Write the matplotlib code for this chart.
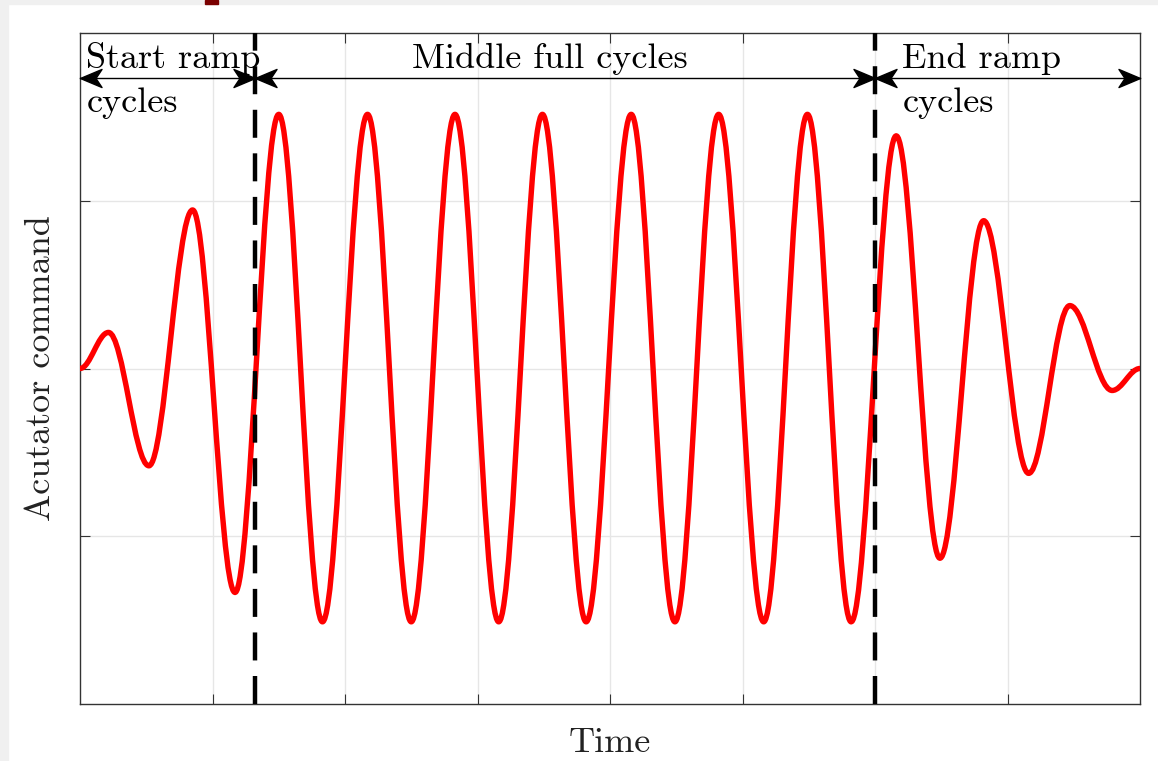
import matplotlib
matplotlib.use("Agg")
import matplotlib.pyplot as plt
from matplotlib.path import Path
from matplotlib.patches import PathPatch, Rectangle

plt.rcParams['font.family'] = 'cmr10'
plt.rcParams['mathtext.fontset'] = 'cm'
plt.rcParams['axes.unicode_minus'] = False

# peaks and troughs of the actuator command
peak_t = [0.0, 0.215, 0.52, 0.85, 1.17,
          1.50, 1.83, 2.17, 2.50, 2.83, 3.16, 3.49, 3.82, 4.16, 4.49, 4.82, 5.16, 5.49, 5.82,
          6.16, 6.49, 6.82, 7.16, 7.47, 7.79, 8.0]
peak_v = [0.0, 0.215, -0.58, 0.945, -1.335,
          1.515, -1.51, 1.515, -1.51, 1.515, -1.51, 1.515, -1.51, 1.515, -1.51, 1.515, -1.51, 1.515, -1.51,
          1.387, -1.131, 0.881, -0.625, 0.375, -0.131, 0.0]

# phase boundaries (dashed lines) and labels
bounds = [0.0, 1.32, 6.0, 8.0]
labels_top = ["Start ramp", "Middle full cycles", "End ramp"]
labels_bottom = ["cycles", "", "cycles"]
label_x = [0.045, 2.506, 6.204]

fig = plt.figure(figsize=(11.58, 7.61), dpi=100)
# grey frame bits of the screenshot
fig.patches.append(Rectangle((0, 0), 8 / 1158, 1, transform=fig.transFigure,
                             color='#f0f0f0', zorder=0))
fig.patches.append(Rectangle((0, 1 - 4 / 761), 1, 4 / 761, transform=fig.transFigure,
                             color='#f0f0f0', zorder=0))
fig.patches.append(Rectangle((205 / 1158, 1 - 4 / 761), 13 / 1158, 4 / 761,
                             transform=fig.transFigure, color='#7a0000', zorder=1))

ax = fig.add_axes([80 / 1158, 1 - 704 / 761, 1060 / 1158, 671 / 761])
ax.set_xlim(0, 8)
ax.set_ylim(-2, 2)
ax.set_xticks(range(1, 8))
ax.set_yticks([-1, 0, 1])
ax.set_xticklabels([])
ax.set_yticklabels([])
ax.tick_params(direction='in', length=7, width=0.8, color='#333333',
               top=True, right=True)
ax.grid(True, color='#e6e6e6', lw=1.0)
ax.set_axisbelow(True)
for s in ax.spines.values():
    s.set_color('#333333')
    s.set_linewidth(1.0)

# smooth signal: cubic bezier between extrema, flat tangents at each extremum
c = 0.3634
verts = [(peak_t[0], peak_v[0])]
codes = [Path.MOVETO]
for i in range(1, len(peak_t)):
    x0, y0 = peak_t[i - 1], peak_v[i - 1]
    x1, y1 = peak_t[i], peak_v[i]
    dx = x1 - x0
    verts += [(x0 + c * dx, y0), (x1 - c * dx, y1), (x1, y1)]
    codes += [Path.CURVE4] * 3
ax.add_patch(PathPatch(Path(verts, codes), fill=False, ec='red', lw=3.9,
                       capstyle='round', joinstyle='round', zorder=3))

# dashed boundaries
for b in bounds[1:3]:
    ax.axvline(b, color='black', lw=3.2, linestyle=(0, (6.3, 3.5)), zorder=4)

# double arrows with stealth-like heads
head_r = Path([(0, 0), (-1, 0.42), (-0.72, 0), (-1, -0.42), (0, 0)],
              [Path.MOVETO, Path.LINETO, Path.LINETO, Path.LINETO, Path.CLOSEPOLY])
head_l = Path([(0, 0), (1, 0.42), (0.72, 0), (1, -0.42), (0, 0)],
              [Path.MOVETO, Path.LINETO, Path.LINETO, Path.LINETO, Path.CLOSEPOLY])
ya = 1.732
for i in range(3):
    x0, x1 = bounds[i], bounds[i + 1]
    ax.plot([x0, x1], [ya, ya], color='black', lw=1.0, zorder=5, clip_on=False)
    ax.plot([x0], [ya], marker=head_l, ms=31, color='black', zorder=5, clip_on=False)
    ax.plot([x1], [ya], marker=head_r, ms=31, color='black', zorder=5, clip_on=False)
    ax.text(label_x[i], 1.79, labels_top[i], fontsize=26, va='baseline', ha='left', zorder=6)
    if labels_bottom[i]:
        ax.text(label_x[i] + 0.008, 1.53, labels_bottom[i], fontsize=26,
                va='baseline', ha='left', zorder=6)

ax.set_xlabel("Time", fontsize=26, labelpad=13)
ax.set_ylabel("Acutator command", fontsize=26, labelpad=13, color='#222222')
ax.xaxis.label.set_color('#222222')

fig.savefig("out.png", dpi=100)
